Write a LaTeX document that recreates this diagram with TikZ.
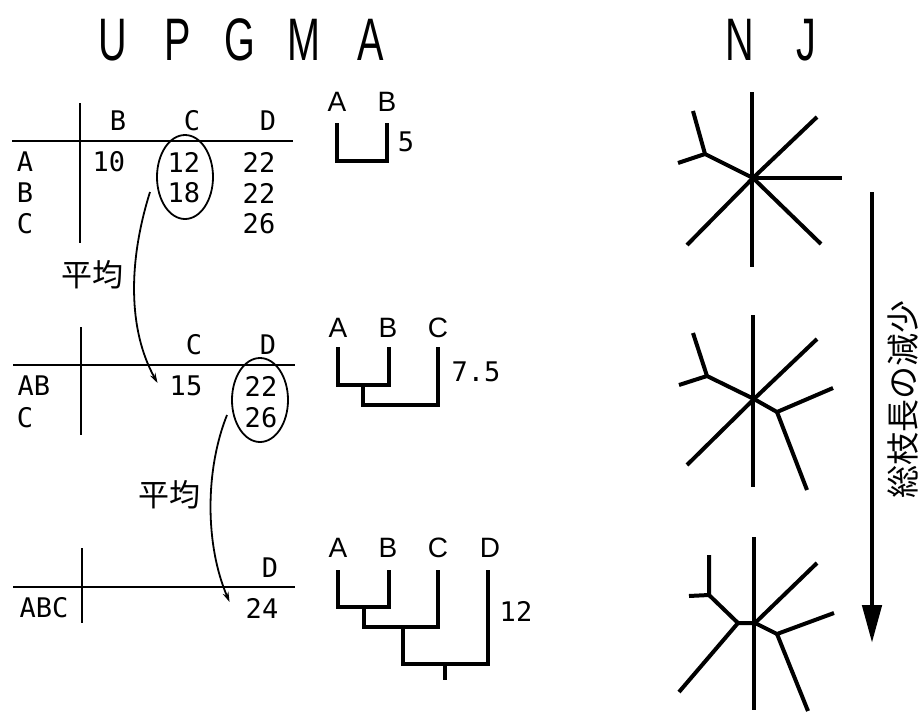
\documentclass[tikz,border=0pt]{standalone}
\usepackage{fontspec}
\usetikzlibrary{shapes.geometric,arrows.meta}
\setmainfont{Liberation Sans}
\newfontfamily\monofnt{DejaVu Sans Mono}
\newfontfamily\jpfnt{Noto Sans CJK JP}
\newfontfamily\titlefnt[FakeStretch=0.66]{Liberation Sans}
\begin{document}
\begin{tikzpicture}[x=1pt,y=-1pt,
  tabtxt/.style={font=\monofnt\fontsize{27}{27}\selectfont, inner sep=0pt},
  dlabel/.style={font=\fontsize{28}{28}\selectfont, inner sep=0pt},
  jptxt/.style={font=\jpfnt\fontsize{31}{31}\selectfont, inner sep=0pt},
  ttl/.style={font=\titlefnt\fontsize{60}{60}\selectfont, inner sep=0pt, anchor=base},
  tline/.style={line width=1.8pt},
  dline/.style={line width=3.4pt},
  njline/.style={line width=4pt},
  circ/.style={draw, ellipse, line width=1.8pt, minimum width=56pt, minimum height=84pt, inner sep=0pt},
  curve/.style={line width=1.8pt, -{Stealth[length=10pt,width=6pt]}}
]
\useasboundingbox (0,0) rectangle (922,713);
\fill[white] (0,0) rectangle (922,713);

% titles
\node[ttl] (tU) at (113,60) {U};
\node[ttl] (tP) at (178,60) {P};
\node[ttl] (tG) at (240,60) {G};
\node[ttl] (tM) at (304,60) {M};
\node[ttl] (tA) at (371,60) {A};
\node[ttl] (tN) at (740,60) {N};
\node[ttl] (tJ) at (806,60) {J};

% table 1
\draw[tline] (12,141) -- (293,141);
\draw[tline] (80,103) -- (80,243);
\node[tabtxt] (t1B) at (118,121) {B};
\node[tabtxt] (t1C) at (192,121) {C};
\node[tabtxt] (t1D) at (268,121) {D};
\node[tabtxt] (t1rA) at (25,162) {A};
\node[tabtxt] (t1rB) at (25,193) {B};
\node[tabtxt] (t1rC) at (25,224) {C};
\node[tabtxt] (v10) at (109,162) {10};
\node[tabtxt] (v12) at (184,162) {12};
\node[tabtxt] (v22a) at (259,162) {22};
\node[tabtxt] (v18) at (184,193) {18};
\node[tabtxt] (v22b) at (259,193) {22};
\node[tabtxt] (v26) at (259,224) {26};
\node[circ] (e1) at (185,177) {};

% table 2
\draw[tline] (13,365) -- (295,365);
\draw[tline] (81,327) -- (81,435);
\node[tabtxt] (t2C) at (194,345) {C};
\node[tabtxt] (t2D) at (268,345) {D};
\node[tabtxt] (t2rAB) at (34,386) {AB};
\node[tabtxt] (t2rC) at (25,418) {C};
\node[tabtxt] (v15) at (186,386) {15};
\node[tabtxt] (v22c) at (261,386) {22};
\node[tabtxt] (v26b) at (261,418) {26};
\node[circ] (e2) at (260,400) {};

% table 3
\draw[tline] (13,587) -- (295,587);
\draw[tline] (82,548) -- (82,623);
\node[tabtxt] (t3D) at (270,568) {D};
\node[tabtxt] (t3rABC) at (44,608) {ABC};
\node[tabtxt] (v24) at (262,608) {24};

% averaging arrows
\node[jptxt] (avg1) at (92,275) {平均};
\node[jptxt] (avg2) at (169,495) {平均};
\draw[curve] ([xshift=-35pt,yshift=-15pt]e1.center) .. controls (128,262) and (128,330) .. ([xshift=-12pt,yshift=3pt]v15.west);
\draw[curve] ([xshift=-33pt,yshift=-15pt]e2.center) .. controls (205,470) and (205,545) .. ([xshift=-16pt,yshift=6pt]v24.west);

% dendrogram 1
\node[dlabel] (d1A) at (337,102) {A};
\node[dlabel] (d1B) at (387,102) {B};
\node[tabtxt] (d1n) at (406,142) {5};
\draw[dline] (337,123) -- (337,161) -- (387,161) -- (387,123);

% dendrogram 2
\node[dlabel] (d2A) at (338,328) {A};
\node[dlabel] (d2B) at (388,328) {B};
\node[dlabel] (d2C) at (438,328) {C};
\node[tabtxt] (d2n) at (476,372) {7.5};
\draw[dline] (338,347) -- (338,385) -- (389,385) -- (389,347);
\draw[dline] (363,385) -- (363,405) -- (438,405) -- (438,347);

% dendrogram 3
\node[dlabel] (d3A) at (338,548) {A};
\node[dlabel] (d3B) at (388,548) {B};
\node[dlabel] (d3C) at (438,548) {C};
\node[dlabel] (d3D) at (490,548) {D};
\node[tabtxt] (d3n) at (516,611) {12};
\draw[dline] (338,570) -- (338,607) -- (389,607) -- (389,570);
\draw[dline] (364,607) -- (364,627) -- (438,627) -- (438,570);
\draw[dline] (403,627) -- (403,664) -- (488,664) -- (488,570);
\draw[dline] (445,664) -- (445,680);

% NJ tree 1
\coordinate (c1) at (753,178);
\draw[njline] (752,92) -- (752,267);
\draw[njline] (c1) -- (817,117);
\draw[njline] (c1) -- (842,178);
\draw[njline] (c1) -- (821,244);
\draw[njline] (c1) -- (687,245);
\draw[njline] (c1) -- (705,154) -- (693,111);
\draw[njline] (705,154) -- (678,163);

% NJ tree 2
\coordinate (c2) at (754,399);
\draw[njline] (753,315) -- (753,487);
\draw[njline] (c2) -- (817,339);
\draw[njline] (c2) -- (687,465);
\draw[njline] (c2) -- (707,376) -- (693,333);
\draw[njline] (707,376) -- (679,385);
\draw[njline] (c2) -- (777,412) -- (833,388);
\draw[njline] (777,412) -- (807,490);

% NJ tree 3
\coordinate (c3) at (755,623);
\draw[njline] (754,537) -- (754,710);
\draw[njline] (c3) -- (817,563);
\draw[njline] (c3) -- (738,623) -- (679,692);
\draw[njline] (738,623) -- (709,595) -- (709,555);
\draw[njline] (709,595) -- (689,596);
\draw[njline] (c3) -- (777,634) -- (834,613);
\draw[njline] (777,634) -- (808,711);

% decreasing total branch length
\coordinate (arT) at (872,192);
\coordinate (arB) at (872,643);
\draw[line width=4.8pt, -{Triangle[width=19pt,length=38pt]}] (arT) -- (arB);
\node[jptxt, font=\jpfnt\fontsize{33}{33}\selectfont, rotate=90] (lbl) at (903,399) {総枝長の減少};
\end{tikzpicture}
\end{document}
